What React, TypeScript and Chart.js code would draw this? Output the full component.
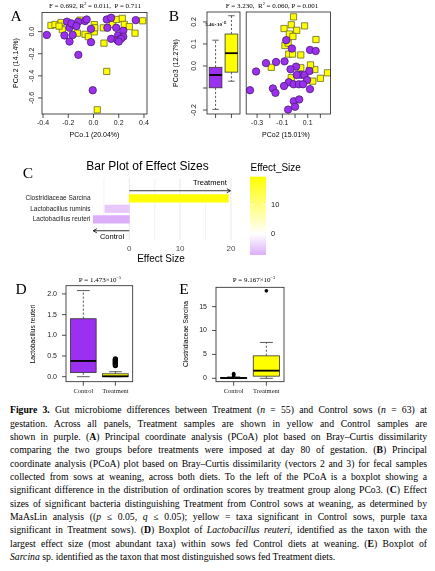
import React, { useEffect, useRef } from "react";
import { Chart, registerables } from "chart.js";

Chart.register(...registerables);

// ---------------- Panel A: PCoA day 80 of gestation ----------------
const aControlX = [-0.37, -0.23, -0.21, -0.19, -0.19, -0.165, -0.155, -0.12, -0.067, -0.054, -0.02, -0.02, -0.12, -0.006, 0.105, 0.14, 0.11, 0.18, 0.14, 0.195, 0.236, 0.236, 0.19, 0.335, 0.218, -0.175, -0.135, 0.2];
const aControlY = [-0.03, -0.035, 0.09, 0.035, -0.09, -0.03, 0.06, 0.09, 0.095, 0.11, 0.025, -0.095, -0.21, -0.53, 0.11, 0.125, 0.035, 0.035, -0.065, -0.034, 0.008, -0.046, -0.078, 0.104, -0.065, 0.075, 0.05, -0.09];
const aTreatX = [-0.337, -0.305, -0.257, -0.247, -0.273, -0.107, -0.128, -0.067, -0.041, 0.006, 0.006, 0.083, 0.105, 0.03, 0.149, 0.184, 0.228, 0.244, 0.284, 0.329, 0.39, 0.078, 0.01];
const aTreatY = [0.056, 0.065, 0.082, 0.017, 0.05, 0.104, -0.014, -0.024, -0.046, 0.063, -0.002, -0.104, -0.36, -0.707, 0.065, 0.11, 0.12, 0.065, 0.046, -0.014, 0.098, 0.034, 0.035];
const aXTicks = [-0.4, -0.2, 0, 0.2, 0.4];
const aXTickLabels = ["-0.4", "-0.2", "0.0", "0.2", "0.4"];
const aYTicks = [0, -0.2, -0.4, -0.6];
const aYTickLabels = ["0.0", "-0.2", "-0.4", "-0.6"];

// ---------------- Panel B: PCoA at weaning (PCo2 vs PCo3) ----------------
const bControlX = [-0.356, -0.308, -0.23, -0.15, -0.083, -0.07, -0.025, 0.118, 0.163, 0.008, 0.045, 0.013, 0.075, 0.113, 0.095, -0.05, -0.087, -0.012, 0.03, 0.063, -0.175, -0.155, 0.118, -0.01, 0.033, 0, -0.055, -0.036];
const bControlY = [-0.11, -0.025, 0.013, 0.018, 0.021, 0.117, 0.079, 0.073, 0.068, -0.003, -0.04, -0.041, -0.041, -0.023, -0.064, -0.074, -0.091, -0.083, -0.083, -0.083, -0.102, -0.122, -0.105, -0.16, -0.152, -0.185, -0.198, -0.015];
const bTreatX = [-0.012, -0.087, -0.03, 0.013, 0.075, -0.045, -0.08, -0.055, 0.165, -0.05, -0.02, 0.045, -0.188, 0.045, 0.156, -0.03, 0.2, 0.256, 0.14, 0.113, -0.017, 0.122];
const bTreatY = [0.223, 0.17, 0.187, 0.162, 0.182, 0.145, 0.093, 0.104, 0.12, 0.054, 0.054, 0.05, -0.006, -0.008, -0.016, -0.053, -0.056, -0.031, -0.069, -0.02, 0.134, 0.005];
const bXTicks = [-0.3, -0.2, -0.1, 0, 0.1, 0.2];
const bXTickLabels = ["-0.3", "", "-0.1", "", "0.1", ""];
const bYTicks = [0.2, 0.1, 0, -0.1, -0.2];
const bYTickLabels = ["0.2", "0.1", "0.0", "", "-0.2"];
// boxplot of PCo3 by group (Control, Treatment)
const bBoxLo = [-0.197, -0.069];
const bBoxQ1 = [-0.099, -0.028];
const bBoxMed = [-0.041, 0.058];
const bBoxQ3 = [-0.006, 0.145];
const bBoxHi = [0.117, 0.228];

// ---------------- Panel C: effect sizes ----------------
const cTaxa = ["Clostridiaceae Sarcina", "Lactobacillus ruminis", "Lactobacillus reuteri"];
const cEffect = [19.5, -4.8, -7.1];
const cXTicks = [0, 10, 20];
const cXMinor = [-5, 5, 15];
const cLegendTicks = [0, 10];
const cArrowLabels = ["Treatment", "Control"];
const cArrowEnds = [19.9, -7.1];

// ---------------- Panel D: Lactobacillus reuteri ----------------
const groups = ["Control", "Treatment"];
const dLo = [0.0, 0.0];
const dQ1 = [0.1, 0.0];
const dMed = [0.38, 0.01];
const dQ3 = [1.4, 0.07];
const dHi = [2.08, 0.12];
const dOutTreat = [0.27, 0.29, 0.31, 0.33, 0.35, 0.37, 0.39, 0.41, 0.43];
const dYTicks = [0, 0.5, 1, 1.5, 2];
const dYTickLabels = ["0.0", "0.5", "1.0", "1.5", "2.0"];

// ---------------- Panel E: Clostridiaceae Sarcina ----------------
const eLo = [0, 0];
const eQ1 = [0, 0.45];
const eMed = [0.05, 1.6];
const eQ3 = [0.15, 4.7];
const eHi = [0.3, 7.5];
const eOutCtrl = [0.5, 0.7, 0.85, 1.0];
const eOutTreat = [18.3];
const eYTicks = [0, 5, 10, 15];
const eYTickLabels = ["0", "5", "10", "15"];

// ---------------- styles ----------------
const SANS = "'Liberation Sans', Arial, sans-serif";
const SERIF = "'Liberation Serif', 'Times New Roman', serif";
const PURPLE = "#9b30f0";
const PURPLE_EDGE = "#4a1d70";
const YELLOW = "#ffff00";
const YELLOW_EDGE = "#6b6b20";

type Rect = { x: number; y: number; w: number; h: number };
type Area = { l: number; t: number; r: number; b: number };

const pts = (xs: number[], ys: number[]) => xs.map((x, i) => ({ x, y: ys[i] }));
const circleDs = (data: any[]) => ({ data, pointStyle: "circle", pointRadius: 3.7, backgroundColor: PURPLE, borderColor: PURPLE_EDGE, borderWidth: 0.8 });
const squareDs = (data: any[]) => ({ data, pointStyle: "rect", pointRadius: 4.4, backgroundColor: YELLOW, borderColor: YELLOW_EDGE, borderWidth: 0.8 });

function frameOpts(c: Rect, a: Area, xr: number[], yr: number[]) {
  return {
    responsive: false,
    animation: false,
    devicePixelRatio: 1,
    events: [],
    layout: { padding: { left: a.l - c.x, top: a.t - c.y, right: c.x + c.w - a.r, bottom: c.y + c.h - a.b } },
    plugins: { legend: { display: false }, tooltip: { enabled: false } },
    scales: {
      x: { type: "linear", display: false, min: xr[0], max: xr[1], bounds: "data", offset: false },
      y: { type: "linear", display: false, min: yr[0], max: yr[1], bounds: "data", offset: false },
    },
  };
}

function seg(ctx: CanvasRenderingContext2D, x0: number, y0: number, x1: number, y1: number) {
  ctx.beginPath();
  ctx.moveTo(x0, y0);
  ctx.lineTo(x1, y1);
  ctx.stroke();
}

type AxCfg = {
  xTicks?: number[]; xLabels?: string[]; xOff?: number; xFont?: string;
  yTicks?: number[]; yLabels?: string[]; yOff?: number; yRot?: boolean;
  font: string; tick: number;
};

function rAxes(cfg: AxCfg) {
  return {
    id: "rAxes",
    afterDatasetsDraw(chart: any) {
      const { ctx, chartArea: a, scales } = chart;
      ctx.save();
      ctx.setLineDash([]);
      ctx.strokeStyle = "#222";
      ctx.lineWidth = 0.8;
      ctx.strokeRect(a.left, a.top, a.right - a.left, a.bottom - a.top);
      ctx.fillStyle = "#1a1a1a";
      (cfg.xTicks || []).forEach((v, i) => {
        const p = scales.x.getPixelForValue(v);
        seg(ctx, p, a.bottom, p, a.bottom + cfg.tick);
        const s = cfg.xLabels ? cfg.xLabels[i] : "";
        if (s) {
          ctx.font = cfg.xFont || cfg.font;
          ctx.textAlign = "center";
          ctx.textBaseline = "middle";
          ctx.fillText(s, p, a.bottom + (cfg.xOff || 0));
        }
      });
      ctx.font = cfg.font;
      (cfg.yTicks || []).forEach((v, i) => {
        const p = scales.y.getPixelForValue(v);
        seg(ctx, a.left, p, a.left - cfg.tick, p);
        const s = cfg.yLabels ? cfg.yLabels[i] : "";
        if (!s) return;
        if (cfg.yRot) {
          ctx.save();
          ctx.translate(a.left - (cfg.yOff || 0), p);
          ctx.rotate(-Math.PI / 2);
          ctx.textAlign = "center";
          ctx.textBaseline = "middle";
          ctx.fillText(s, 0, 0);
          ctx.restore();
        } else {
          ctx.textAlign = "right";
          ctx.textBaseline = "middle";
          ctx.fillText(s, a.left - (cfg.yOff || 0), p);
        }
      });
      ctx.restore();
    },
  };
}

type BoxCfg = { lo: number[]; q1: number[]; med: number[]; q3: number[]; hi: number[]; fill: string[]; half: number };

function boxes(cfg: BoxCfg) {
  return {
    id: "boxes",
    beforeDatasetsDraw(chart: any) {
      const { ctx, scales } = chart;
      const x = scales.x, y = scales.y;
      ctx.save();
      cfg.lo.forEach((_, i) => {
        const p = i + 1;
        const xc = x.getPixelForValue(p);
        const xl = x.getPixelForValue(p - cfg.half);
        const xr = x.getPixelForValue(p + cfg.half);
        const sl = x.getPixelForValue(p - cfg.half / 2);
        const sr = x.getPixelForValue(p + cfg.half / 2);
        const ylo = y.getPixelForValue(cfg.lo[i]);
        const y1 = y.getPixelForValue(cfg.q1[i]);
        const ym = y.getPixelForValue(cfg.med[i]);
        const y3 = y.getPixelForValue(cfg.q3[i]);
        const yhi = y.getPixelForValue(cfg.hi[i]);
        ctx.strokeStyle = "#333";
        ctx.lineWidth = 0.8;
        ctx.setLineDash([2.2, 1.8]);
        seg(ctx, xc, y3, xc, yhi);
        seg(ctx, xc, y1, xc, ylo);
        ctx.setLineDash([]);
        seg(ctx, sl, yhi, sr, yhi);
        seg(ctx, sl, ylo, sr, ylo);
        ctx.fillStyle = cfg.fill[i];
        ctx.fillRect(xl, y3, xr - xl, y1 - y3);
        ctx.strokeRect(xl, y3, xr - xl, y1 - y3);
        ctx.strokeStyle = "#000";
        ctx.lineWidth = 1.8;
        seg(ctx, xl, ym, xr, ym);
      });
      ctx.restore();
    },
  };
}

// effect-size colour: white at 0, yellow at +max, purple side scaled by same max
const effMax = Math.max(...cEffect.map(Math.abs));
function effectColor(v: number) {
  const t = Math.min(1, Math.abs(v) / effMax);
  const hi = v >= 0 ? [255, 255, 0] : [160, 32, 240];
  const c = hi.map((h) => Math.round(255 + (h - 255) * t));
  return `rgb(${c[0]},${c[1]},${c[2]})`;
}

function arrow(ctx: CanvasRenderingContext2D, x0: number, y0: number, x1: number, y1: number) {
  seg(ctx, x0, y0, x1, y1);
  const ang = Math.atan2(y1 - y0, x1 - x0);
  const L = 4.2, h = Math.PI / 6;
  ctx.beginPath();
  ctx.moveTo(x1 - L * Math.cos(ang - h), y1 - L * Math.sin(ang - h));
  ctx.lineTo(x1, y1);
  ctx.lineTo(x1 - L * Math.cos(ang + h), y1 - L * Math.sin(ang + h));
  ctx.stroke();
}

const cDecor = {
  id: "cDecor",
  beforeDatasetsDraw(chart: any) {
    const { ctx, chartArea: a, scales } = chart;
    const x = scales.x;
    ctx.save();
    ctx.strokeStyle = "#ebebeb";
    ctx.lineWidth = 0.6;
    cXMinor.forEach((v) => { const p = x.getPixelForValue(v); seg(ctx, p, a.top, p, a.bottom); });
    ctx.lineWidth = 1.1;
    cXTicks.forEach((v) => { const p = x.getPixelForValue(v); seg(ctx, p, a.top, p, a.bottom); });
    ctx.restore();
  },
  afterDatasetsDraw(chart: any) {
    const { ctx, chartArea: a, scales } = chart;
    const x = scales.x, y = scales.y;
    ctx.save();
    // category labels
    ctx.font = `6.5px ${SANS}`;
    ctx.fillStyle = "#222";
    ctx.textAlign = "right";
    ctx.textBaseline = "middle";
    cTaxa.forEach((t, i) => ctx.fillText(t, a.left - 1.5, y.getPixelForValue(cTaxa.length - i)));
    // x tick labels
    ctx.font = `8px ${SANS}`;
    ctx.fillStyle = "#4d4d4d";
    ctx.textAlign = "center";
    cXTicks.forEach((v) => ctx.fillText(String(v), x.getPixelForValue(v), a.bottom + 8.3));
    // arrows
    ctx.strokeStyle = "#000";
    ctx.lineWidth = 0.8;
    const yT = y.getPixelForValue(cTaxa.length + 0.72);
    const yC = y.getPixelForValue(-0.09);
    arrow(ctx, x.getPixelForValue(0), yT, x.getPixelForValue(cArrowEnds[0]), yT);
    arrow(ctx, x.getPixelForValue(0), yC, x.getPixelForValue(cArrowEnds[1]), yC);
    ctx.font = `7.5px ${SANS}`;
    ctx.fillStyle = "#000";
    ctx.textAlign = "right";
    ctx.fillText(cArrowLabels[0], x.getPixelForValue(19.2), y.getPixelForValue(cTaxa.length + 1.46));
    ctx.textAlign = "center";
    ctx.fillText(cArrowLabels[1], x.getPixelForValue(-3.4), y.getPixelForValue(-0.66));
    // colour bar legend
    const lo = Math.min(...cEffect), hi = Math.max(...cEffect);
    const cbL = 250, cbR = 266, cbTop = 26.7, cbBot = 105;
    const cbY = (v: number) => cbBot - ((v - lo) / (hi - lo)) * (cbBot - cbTop);
    const g = ctx.createLinearGradient(0, cbBot, 0, cbTop);
    g.addColorStop(0, effectColor(lo));
    g.addColorStop((0 - lo) / (hi - lo), "#ffffff");
    g.addColorStop(1, effectColor(hi));
    ctx.fillStyle = g;
    ctx.fillRect(cbL, cbTop, cbR - cbL, cbBot - cbTop);
    ctx.strokeStyle = "#ffffff";
    ctx.lineWidth = 1;
    ctx.font = `7.5px ${SANS}`;
    ctx.textAlign = "left";
    cLegendTicks.forEach((v) => {
      const p = cbY(v);
      seg(ctx, cbL, p, cbL + 3, p);
      seg(ctx, cbR - 3, p, cbR, p);
      ctx.fillStyle = "#222";
      ctx.fillText(String(v), cbR + 5, p);
    });
    ctx.restore();
  },
};

function Panel({ r, build }: { r: Rect; build: () => any }) {
  const ref = useRef<HTMLCanvasElement | null>(null);
  useEffect(() => {
    if (!ref.current) return;
    const chart = new Chart(ref.current, build());
    return () => chart.destroy();
  }, []);
  return <canvas ref={ref} width={r.w} height={r.h} style={{ position: "absolute", left: r.x, top: r.y, width: r.w, height: r.h }} />;
}

function T({ x, y, size, family, children, anchor = "middle", rot = 0, weight = 400, style = "normal", color = "#000" }: any) {
  const tx = anchor === "middle" ? "-50%" : anchor === "end" ? "-100%" : "0";
  return (
    <div
      style={{
        position: "absolute", left: x, top: y, transform: `translate(${tx},-50%) rotate(${rot}deg)`,
        fontSize: size, fontFamily: family, fontWeight: weight, fontStyle: style, color, whiteSpace: "nowrap", lineHeight: 1,
      }}
    >
      {children}
    </div>
  );
}

const A_C: Rect = { x: 0, y: 0, w: 160, h: 150 };
const A_A: Area = { l: 42, t: 12.5, r: 147, b: 114 };
const BB_C: Rect = { x: 165, y: 0, w: 76, h: 150 };
const BB_A: Area = { l: 207, t: 12, r: 240, b: 114 };
const BS_C: Rect = { x: 241, y: 0, w: 110, h: 150 };
const BS_A: Area = { l: 242, t: 12, r: 330.5, b: 114 };
const C_C: Rect = { x: 0, y: 150, w: 300, h: 120 };
const C_A: Area = { l: 92, t: 178, r: 235, b: 240 };
const D_C: Rect = { x: 0, y: 270, w: 145, h: 130 };
const D_A: Area = { l: 66, t: 285.7, r: 132.7, b: 381.7 };
const E_C: Rect = { x: 160, y: 270, w: 135, h: 130 };
const E_A: Area = { l: 216, t: 287.3, r: 284, b: 381.7 };

const AX_FONT = `7px ${SANS}`;
const GRP_FONT = `6.5px ${SERIF}`;

const sup = (s: string) => <sup style={{ fontSize: "0.62em", verticalAlign: "0.5em", lineHeight: 0 }}>{s}</sup>;

const captionLines: React.ReactNode[] = [
  <><b>Figure 3.</b> Gut microbiome differences between Treatment (<i>n</i> = 55) and Control sows (<i>n</i> = 63) at</>,
  <>gestation. Across all panels, Treatment samples are shown in yellow and Control samples are</>,
  <>shown in purple. (<b>A</b>) Principal coordinate analysis (PCoA) plot based on Bray–Curtis dissimilarity</>,
  <>comparing the two groups before treatments were imposed at day 80 of gestation. (<b>B</b>) Principal</>,
  <>coordinate analysis (PCoA) plot based on Bray–Curtis dissimilarity (vectors 2 and 3) for fecal samples</>,
  <>collected from sows at weaning, across both diets. To the left of the PCoA is a boxplot showing a</>,
  <>significant difference in the distribution of ordination scores by treatment group along PCo3. (<b>C</b>) Effect</>,
  <>sizes of significant bacteria distinguishing Treatment from Control sows at weaning, as determined by</>,
  <>MaAsLin analysis ((<i>p</i> ≤ 0.05, <i>q</i> ≤ 0.05); yellow = taxa significant in Control sows, purple taxa</>,
  <>significant in Treatment sows). (<b>D</b>) Boxplot of <i>Lactobacillus reuteri</i>, identified as the taxon with the</>,
  <>largest effect size (most abundant taxa) within sows fed Control diets at weaning. (<b>E</b>) Boxplot of</>,
  <><i>Sarcina</i> sp. identified as the taxon that most distinguished sows fed Treatment diets.</>,
];

export default function App() {
  return (
    <div style={{ position: "absolute", left: 0, top: 0, width: 435, height: 571, background: "#fff", overflow: "hidden" }}>
      {/* Panel A */}
      <Panel
        r={A_C}
        build={() => ({
          type: "scatter",
          data: { datasets: [circleDs(pts(aControlX, aControlY)), squareDs(pts(aTreatX, aTreatY))] },
          options: frameOpts(A_C, A_A, [-0.408, 0.424], [-0.745, 0.173]),
          plugins: [rAxes({ xTicks: aXTicks, xLabels: aXTickLabels, xOff: 9.5, yTicks: aYTicks, yLabels: aYTickLabels, yOff: 10, yRot: true, font: AX_FONT, tick: 4 })],
        })}
      />
      {/* Panel B boxplot */}
      <Panel
        r={BB_C}
        build={() => ({
          type: "scatter",
          data: { datasets: [] },
          options: frameOpts(BB_C, BB_A, [0.46, 2.54], [-0.218, 0.245]),
          plugins: [
            boxes({ lo: bBoxLo, q1: bBoxQ1, med: bBoxMed, q3: bBoxQ3, hi: bBoxHi, fill: [PURPLE, YELLOW], half: 0.4 }),
            rAxes({ xTicks: [1, 2], yTicks: bYTicks, yLabels: bYTickLabels, yOff: 12.5, yRot: true, font: AX_FONT, tick: 4 }),
          ],
        })}
      />
      {/* Panel B scatter */}
      <Panel
        r={BS_C}
        build={() => ({
          type: "scatter",
          data: { datasets: [circleDs(pts(bControlX, bControlY)), squareDs(pts(bTreatX, bTreatY))] },
          options: frameOpts(BS_C, BS_A, [-0.386, 0.28], [-0.218, 0.245]),
          plugins: [rAxes({ xTicks: bXTicks, xLabels: bXTickLabels, xOff: 9.5, font: AX_FONT, tick: 4 })],
        })}
      />
      {/* Panel C */}
      <Panel
        r={C_C}
        build={() => {
          const o: any = frameOpts(C_C, C_A, [-7.34, 20.8], [-0.971, 4.933]);
          o.indexAxis = "y";
          return {
            type: "bar",
            data: {
              datasets: [{
                data: cTaxa.map((_, i) => ({ x: cEffect[i], y: cTaxa.length - i })),
                backgroundColor: cEffect.map(effectColor),
                borderWidth: 0,
                barThickness: 7.5,
              }],
            },
            options: o,
            plugins: [cDecor],
          };
        }}
      />
      {/* Panel D */}
      <Panel
        r={D_C}
        build={() => ({
          type: "scatter",
          data: {
            datasets: [{
              data: dOutTreat.map((v) => ({ x: 2, y: v })), pointStyle: "circle", pointRadius: 2.1,
              backgroundColor: "rgba(0,0,0,0)", borderColor: "#000", borderWidth: 1.1,
            }],
          },
          options: frameOpts(D_C, D_A, [0.46, 2.54], [-0.121, 2.198]),
          plugins: [
            boxes({ lo: dLo, q1: dQ1, med: dMed, q3: dQ3, hi: dHi, fill: [PURPLE, YELLOW], half: 0.4 }),
            rAxes({ xTicks: [1, 2], xLabels: groups, xOff: 10, xFont: GRP_FONT, yTicks: dYTicks, yLabels: dYTickLabels, yOff: 9, font: AX_FONT, tick: 4 }),
          ],
        })}
      />
      {/* Panel E */}
      <Panel
        r={E_C}
        build={() => ({
          type: "scatter",
          data: {
            datasets: [
              { data: eOutCtrl.map((v) => ({ x: 1, y: v })), pointStyle: "circle", pointRadius: 1.8, backgroundColor: "#000", borderColor: "#000", borderWidth: 0 },
              { data: eOutTreat.map((v) => ({ x: 2, y: v })), pointStyle: "circle", pointRadius: 1.8, backgroundColor: "#000", borderColor: "#000", borderWidth: 0 },
            ],
          },
          options: frameOpts(E_C, E_A, [0.46, 2.54], [-0.71, 19.04]),
          plugins: [
            boxes({ lo: eLo, q1: eQ1, med: eMed, q3: eQ3, hi: eHi, fill: [PURPLE, YELLOW], half: 0.4 }),
            rAxes({ xTicks: [1, 2], xLabels: groups, xOff: 10, xFont: GRP_FONT, yTicks: eYTicks, yLabels: eYTickLabels, yOff: 9, font: AX_FONT, tick: 4 }),
          ],
        })}
      />

      {/* Texts: panel A */}
      <T x={16} y={16} size={15.5} family={SERIF}>A</T>
      <T x={95} y={5.5} size={7} family={SERIF}>F = 0.692, R{sup("2")} = 0.011,&nbsp; P = 0.711</T>
      <T x={15} y={63} size={7} family={SANS} rot={-90}>PCo.2 (14.14%)</T>
      <T x={94.5} y={134} size={7} family={SANS}>PCo.1 (20.04%)</T>
      {/* panel B */}
      <T x={174} y={16} size={15.5} family={SERIF}>B</T>
      <T x={272} y={5.5} size={7} family={SERIF}>F = 3.230,&nbsp; R{sup("2")} = 0.060, P = 0.001</T>
      <T x={175} y={63} size={7} family={SANS} rot={-90}>PCo3 (12.27%)</T>
      <T x={286} y={134} size={7} family={SANS}>PCo2 (15.01%)</T>
      <T x={216} y={24} size={5} family={SERIF} weight={700}>5.46×10{sup("−11")}</T>
      {/* panel C */}
      <T x={28} y={173} size={15.5} family={SERIF}>C</T>
      <T x={147.5} y={165.7} size={12} family={SANS}>Bar Plot of Effect Sizes</T>
      <T x={161} y={259} size={10} family={SANS}>Effect Size</T>
      <T x={250.5} y={168.3} size={10} family={SANS} anchor="start">Effect_Size</T>
      {/* panel D */}
      <T x={21} y={289} size={15.5} family={SERIF}>D</T>
      <T x={100} y={279.5} size={7} family={SERIF}>P = 1.473×10{sup("−5")}</T>
      <T x={33} y={334} size={6.6} family={SANS} rot={-90}>Lactobacillus reuteri</T>
      {/* panel E */}
      <T x={184} y={289} size={15.5} family={SERIF}>E</T>
      <T x={254} y={279.5} size={7} family={SERIF}>P = 9.167×10{sup("−3")}</T>
      <T x={186} y={334} size={6.6} family={SANS} rot={-90}>Clostridiaceae Sarcina</T>

      {/* caption */}
      <div style={{ position: "absolute", left: 10, top: 403.3, width: 417, fontFamily: SERIF, fontSize: 9.7, lineHeight: "13.33px", color: "#000" }}>
        {captionLines.map((ln, i) => (
          <div key={i} style={{ textAlign: "justify", textAlignLast: i === captionLines.length - 1 ? "left" : "justify", height: 13.33, overflow: "visible" }}>
            {ln}
          </div>
        ))}
      </div>
    </div>
  );
}
